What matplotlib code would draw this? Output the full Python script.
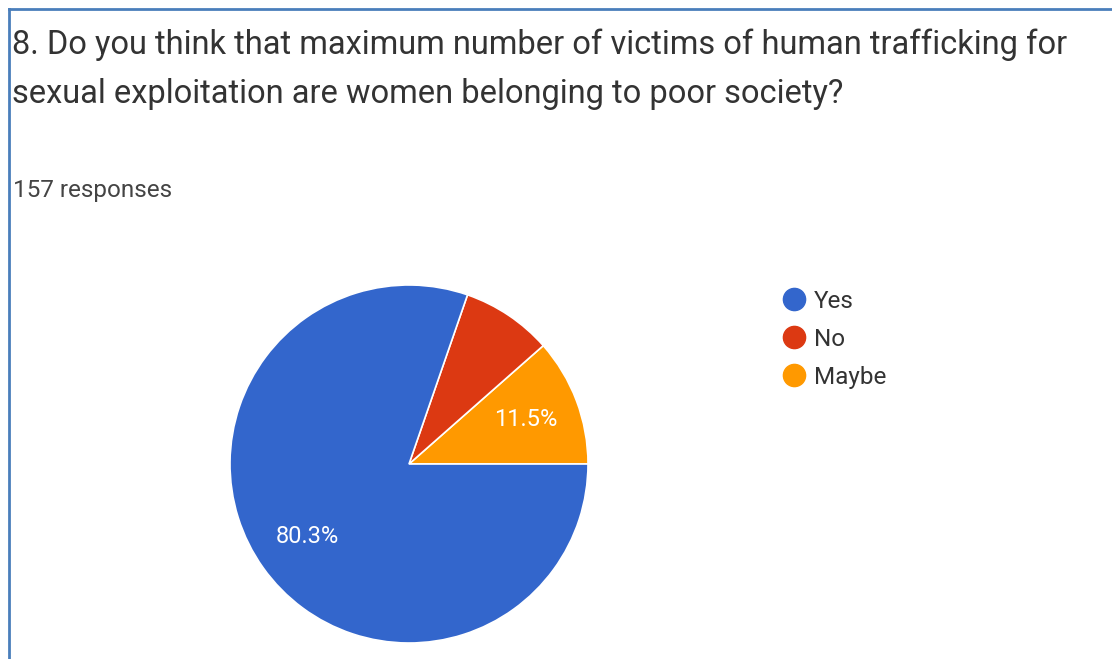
import matplotlib.pyplot as plt
from matplotlib.lines import Line2D

title = "8. Do you think that maximum number of victims of human trafficking for\nsexual exploitation are women belonging to poor society?"
subtitle = "157 responses"
labels = ['Yes', 'No', 'Maybe']
shares = [80.3, 8.2, 11.5]
colors = ['#3366CC', '#DC3912', '#FF9900']

W, H = 1112, 659
fig = plt.figure(figsize=(W / 100, H / 100), dpi=100)
plt.rcParams['font.family'] = ['Roboto', 'DejaVu Sans']

# frame lines (top and left) like the screenshot border
fig.add_artist(Line2D([9 / W, 1], [1 - 9 / H, 1 - 9 / H], color='#4a7ebb', lw=2))
fig.add_artist(Line2D([9 / W, 9 / W], [0, 1 - 9 / H], color='#4a7ebb', lw=2))

fig.text(12 / W, 1 - 29 / H, title, fontsize=23.5, color='#333333', va='top', linespacing=1.68)
fig.text(13 / W, 1 - 190 / H, subtitle, fontsize=17.5, color='#444444', va='center')

# pie: counterclockwise from 3 o'clock, drawn Maybe, No, Yes
cx, cy, r = 409, 464, 179
ax = fig.add_axes([(cx - r) / W, (H - cy - r) / H, 2 * r / W, 2 * r / H])
order = [2, 1, 0]
vals = [shares[i] for i in order]
cols = [colors[i] for i in order]
pct = lambda p: f'{p:.1f}%' if p > 10 else ''
wedges, _, autotexts = ax.pie(vals, colors=cols, startangle=0, counterclock=True,
                              autopct=pct, pctdistance=0.7,
                              wedgeprops=dict(edgecolor='white', linewidth=1.2),
                              textprops=dict(color='white', fontsize=17))
ax.set_xlim(-1, 1)
ax.set_ylim(-1, 1)
ax.set_aspect('auto')
ax.axis('off')

handles = [Line2D([], [], marker='o', ls='', markersize=16, markerfacecolor=c, markeredgecolor=c)
           for c in colors]
fig.legend(handles, labels, loc='upper left', bbox_to_anchor=(770 / W, 1 - 280 / H),
           frameon=False, fontsize=17.5, handletextpad=0.2, labelspacing=0.62,
           labelcolor='#333333', handlelength=1.2, borderaxespad=0)

fig.savefig('out.png', dpi=100)
